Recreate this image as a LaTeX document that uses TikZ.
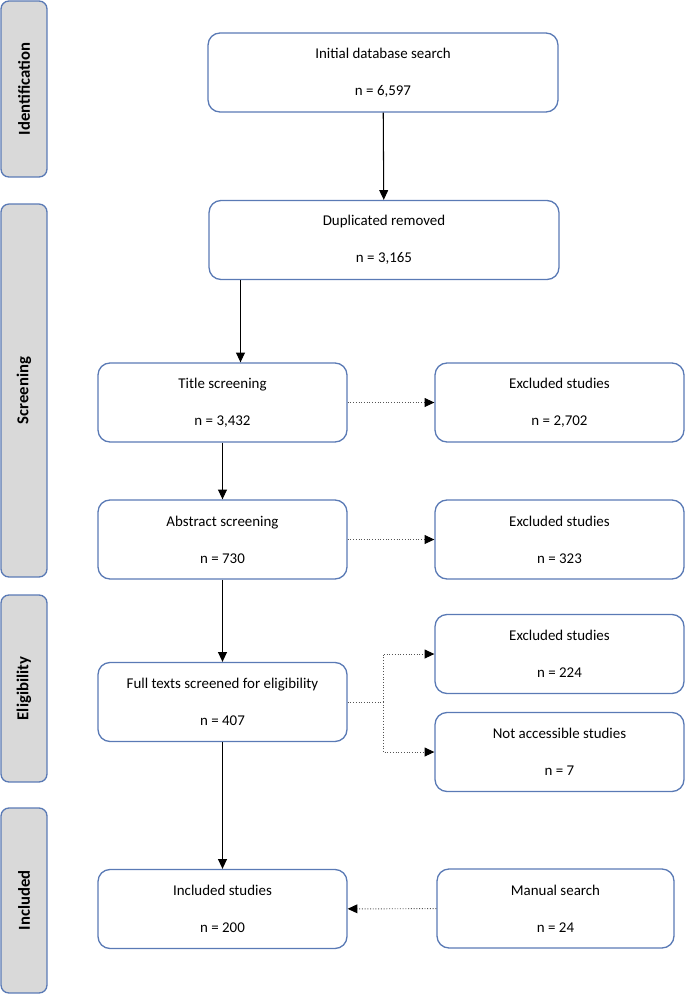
\documentclass[tikz,border=0pt]{standalone}
\usepackage{fontspec}
\setmainfont{Carlito}
\usetikzlibrary{arrows.meta,positioning}
\definecolor{boxline}{HTML}{5A7AB5}
\definecolor{stagefill}{HTML}{D9D9D9}
\definecolor{dotline}{HTML}{555555}
\tikzset{
  flowbox/.style={draw=boxline, line width=0.75pt, rounded corners=6.8pt, align=center,
    minimum height=1.58cm, inner sep=0pt, font=\fontsize{8.5}{10.2}\selectfont},
  widebox/.style={flowbox, minimum width=7cm},
  sidebox/.style={flowbox, minimum width=4.98cm},
  stagebox/.style={draw=boxline, fill=stagefill, line width=0.75pt, rounded corners=4.5pt,
    minimum height=0.92cm, inner sep=0pt, rotate=90, font=\bfseries\fontsize{9.5}{11}\selectfont},
  arr/.style={-{Triangle[length=5.5pt,width=5pt]}, line width=0.6pt, draw=black},
  dotline/.style={densely dotted, draw=dotline, line width=0.55pt},
  dotarr/.style={dotline, -{Triangle[length=5.5pt,width=5pt,black]}}
}
\begin{document}
\begin{tikzpicture}[x=0.02cm,y=-0.02cm]
  \useasboundingbox (0,0) rectangle (685,995);
  \node[stagebox, minimum width=3.52cm] (ident) at (24,89) {Identification};
  \node[stagebox, minimum width=7.46cm] (screen) at (24,390.5) {Screening};
  \node[stagebox, minimum width=3.74cm] (elig) at (24,688.5) {Eligibility};
  \node[stagebox, minimum width=3.7cm] (incl) at (24,900.5) {Included};

  \node[widebox] (init) at (383,72.5) {Initial database search\\[10.8pt]n = 6,597};
  \node[widebox] (dup) at (384,240) {Duplicated removed\\[10.8pt]n = 3,165};
  \node[sidebox] (title) at (222.5,402.5) {Title screening\\[10.8pt]n = 3,432};
  \node[sidebox] (exclA) at (559.5,402.5) {Excluded studies\\[10.8pt]n = 2,702};
  \node[sidebox] (abstr) at (222.5,539.5) {Abstract screening\\[10.8pt]n = 730};
  \node[sidebox] (exclB) at (559.5,539.5) {Excluded studies\\[10.8pt]n = 323};
  \node[sidebox] (full) at (222.5,702) {Full texts screened for eligibility\\[10.8pt]n = 407};
  \node[sidebox] (exclC) at (559.5,654) {Excluded studies\\[10.8pt]n = 224};
  \node[sidebox] (noacc) at (559.5,752) {Not accessible studies\\[10.8pt]n = 7};
  \node[sidebox] (studies) at (222.5,909) {Included studies\\[10.8pt]n = 200};
  \node[sidebox, minimum width=4.74cm] (manual) at (555.5,908.5) {Manual search\\[10.8pt]n = 24};

  \coordinate (split) at (383,0);
  \draw[arr] (init) -- (dup);
  \draw[arr] (240.5,0 |- dup.south) -- (240.5,0 |- title.north);
  \draw[arr] (title) -- (abstr);
  \draw[arr] (abstr) -- (full);
  \draw[arr] (full) -- (studies);
  \draw[dotarr] (title) -- (exclA);
  \draw[dotarr] (abstr) -- (exclB);
  \draw[dotline] (full.east) -- (full.east -| split);
  \draw[dotarr] (full.east -| split) |- (exclC.west);
  \draw[dotarr] (full.east -| split) |- (noacc.west);
  \draw[dotarr] (manual) -- (studies);
\end{tikzpicture}
\end{document}
